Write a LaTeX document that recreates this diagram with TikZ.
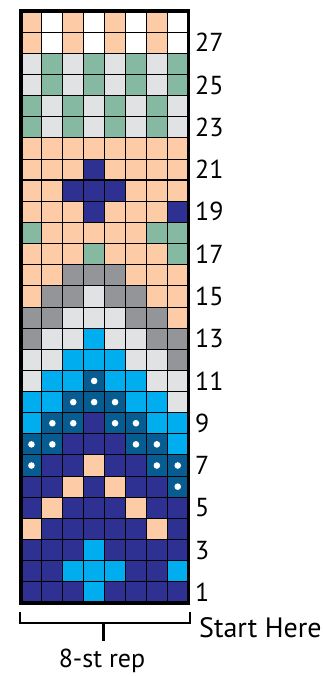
\documentclass[tikz,border=0pt]{standalone}
\usepackage{fontspec}
\setmainfont{PT Sans}
\definecolor{cP}{HTML}{FDCBA6}
\definecolor{cW}{HTML}{FFFFFF}
\definecolor{cL}{HTML}{E1E2E4}
\definecolor{cG}{HTML}{86B9A1}
\definecolor{cD}{HTML}{939598}
\definecolor{cB}{HTML}{00AEEF}
\definecolor{cN}{HTML}{2E3192}
\definecolor{cT}{HTML}{075C92}
\begin{document}
\begin{tikzpicture}[x=1pt,y=-1pt,
  lbl/.style={anchor=west,inner sep=0pt,font=\fontsize{26}{26}\selectfont},
  gridline/.style={line width=0.9pt,black},
  brk/.style={line width=2.6pt,black}]
\useasboundingbox (0,0) rectangle (322,676);
\def\W{20.9}
\def\H{21.14}
\def\tT{T}
\foreach \rowlist [count=\r] in {
 {P,W,P,W,P,W,P,W},
 {P,W,P,W,P,W,P,W},
 {L,G,L,G,L,G,L,G},
 {L,G,L,G,L,G,L,G},
 {G,L,G,L,G,L,G,L},
 {G,L,G,L,G,L,G,L},
 {P,P,P,P,P,P,P,P},
 {P,P,P,N,P,P,P,P},
 {P,P,N,N,N,P,P,P},
 {P,P,P,N,P,P,P,N},
 {G,P,P,P,P,P,G,G},
 {P,P,P,G,P,P,P,G},
 {P,P,D,D,D,P,P,P},
 {P,D,D,L,D,D,P,P},
 {D,D,L,L,L,D,D,P},
 {D,L,L,B,L,L,D,D},
 {L,L,B,B,B,L,L,D},
 {L,B,B,T,B,B,L,L},
 {B,B,T,T,T,B,B,L},
 {B,T,T,N,T,T,B,B},
 {T,T,N,N,N,T,T,B},
 {T,N,N,P,N,N,T,T},
 {N,N,P,N,P,N,N,T},
 {N,P,N,N,N,P,N,N},
 {P,N,N,N,N,N,P,N},
 {N,N,N,B,N,N,N,N},
 {N,N,B,B,B,N,N,B},
 {N,N,N,B,N,N,N,N}} {
  \foreach \c [count=\i] in \rowlist {
    \fill[c\c] ({21+(\i-1)*\W},{11+(\r-1)*\H}) rectangle ++(\W,\H);
    \edef\tmp{\c}
    \ifx\tmp\tT
      \fill[white] ({21+(\i-0.5)*\W},{11+(\r-0.5)*\H}) circle (3.3);
    \fi
  }
}
\foreach \i in {1,...,7} \draw[gridline] ({21+\i*\W},11) -- ({21+\i*\W},{11+28*\H});
\foreach \r in {1,...,27} \draw[gridline] (21,{11+\r*\H}) -- ({21+8*\W},{11+\r*\H});
\draw[line width=2.2pt] (21,{11+8*\H}) -- ({21+8*\W},{11+8*\H});
\draw[line width=3.4pt] (21,11) rectangle ({21+8*\W},{11+28*\H});
\foreach \n in {1,3,...,27}
  \node[lbl] (n\n) at (195,{11+(28-\n+0.5)*\H}) {\n};
\coordinate (bl) at (20,611.5);
\coordinate (blc) at (20,623);
\coordinate (brc) at (190,623);
\coordinate (br) at (190,611.5);
\coordinate (bm) at (103.3,623);
\coordinate (bmd) at (103.3,641);
\draw[brk] (bl) -- (blc) -- (brc) -- (br);
\draw[brk] (bm) -- (bmd);
\node[anchor=base west,inner sep=0pt,font=\fontsize{28}{28}\selectfont] (start) at (199,637) {Start Here};
\node[anchor=base,inner sep=0pt,font=\fontsize{26}{26}\selectfont] (rep) at (102,667) {8-st rep};
\end{tikzpicture}
\end{document}
